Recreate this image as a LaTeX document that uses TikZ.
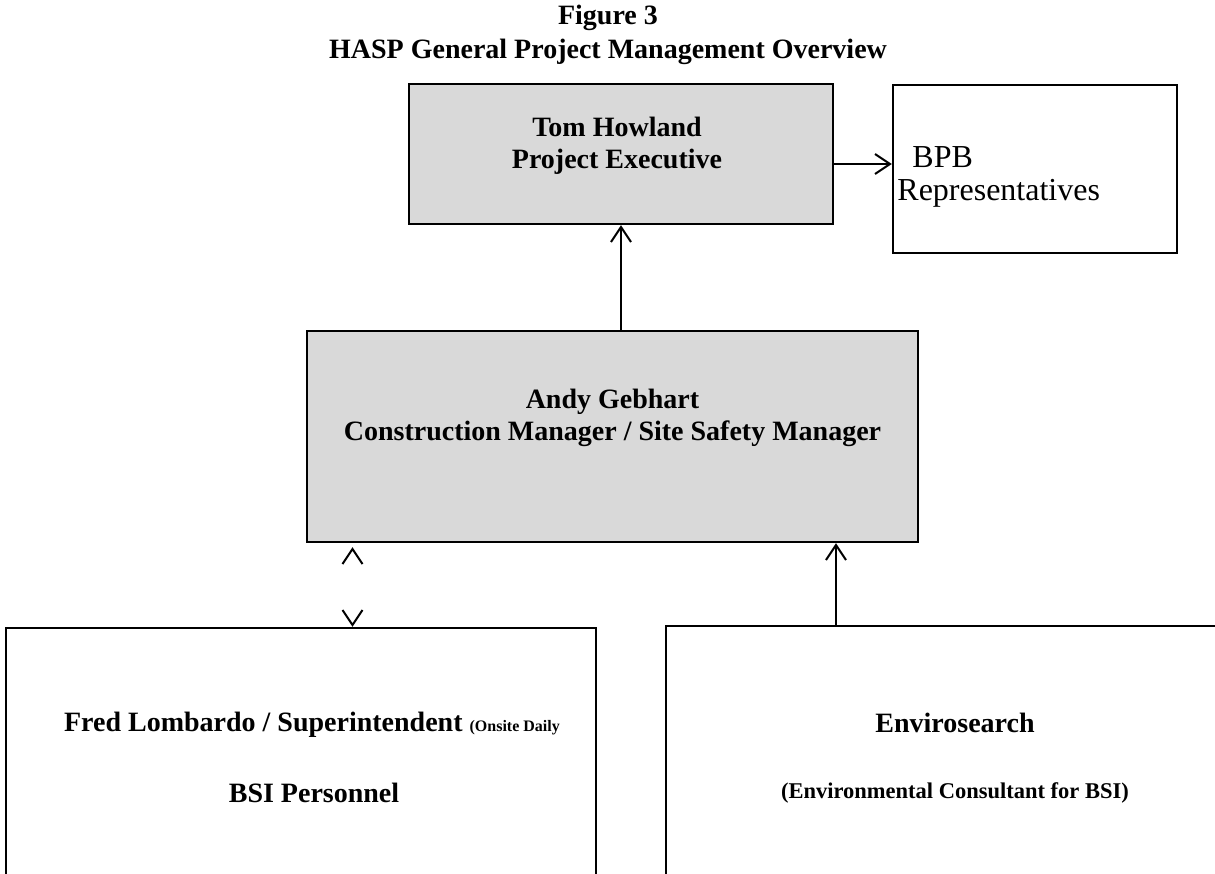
\documentclass[tikz,border=0pt]{standalone}
\usepackage{fontspec}
\setmainfont{Liberation Serif}
\usetikzlibrary{arrows.meta}
\definecolor{boxgrey}{HTML}{D9D9D9}
\newcommand{\bodysize}{\fontsize{14}{16}\selectfont}
\tikzset{
	box/.style={draw, line width=1.2pt, inner sep=0pt},
	greybox/.style={box, fill=boxgrey},
	lbl/.style={font=\bodysize\bfseries, align=center, inner sep=0pt},
	barb/.tip={Straight Barb[length=7.5pt,width=10pt,line width=1pt]},
	arr/.style={line width=1pt, -barb},
}

\begin{document}
\begin{tikzpicture}[x=0.5pt, y=-0.5pt]
				\useasboundingbox (0,0) rectangle (1215,873);
				
				\node[lbl] (fig) at (608,18) {Figure 3};
				\node[lbl] (title) at (608,52) {HASP General Project Management Overview};
				
				\node[greybox, minimum width=212pt, minimum height=70pt] (tom) at (621,154) {};
				\node[lbl] (tomtxt) at (617,146) {Tom Howland\\Project Executive};
				
				\node[box, minimum width=142pt, minimum height=84pt] (bpb) at (1035,169) {};
				\node[lbl, font=\fontsize{16}{16.5}\selectfont, align=left, anchor=west] (bpbtxt) at (897,176.5) {\hspace*{7.5pt}BPB\\Representatives};
				
				\node[greybox, minimum width=305.5pt, minimum height=105.5pt] (andy) at (612.5,436.5) {};
				\node[lbl] (andytxt) at (612.5,418) {Andy Gebhart\\Construction Manager / Site Safety Manager};
				
				\node[box, minimum width=295pt, minimum height=136pt] (fred) at (301,764) {};
				\node[lbl] (fredtxt) at (312,725) {Fred Lombardo / Superintendent {\fontsize{8}{10}\selectfont(Onsite Daily}};
				\node[lbl] (bsitxt) at (314,793) {BSI Personnel};
				
				\node[box, minimum width=289.5pt, minimum height=137pt] (env) at (955.5,763) {};
				\node[lbl] (envtxt) at (955,723) {Envirosearch};
				\node[lbl, font=\fontsize{11.25}{13}\selectfont\bfseries] (constxt) at (955,793) {(Environmental Consultant for BSI)};
				
				\coordinate (tomout) at ([yshift=-5pt]tom.east);
				\draw[arr] (tomout) -- (tomout -| bpb.west);
				\draw[arr] (tom.south |- andy.north) -- (tom.south);
				
				\coordinate (envup) at (836,0);
				\draw[arr] (envup |- env.north) -- (envup |- andy.south);
				
				\coordinate (fredup) at (352.5,0);
				\draw[line width=1pt, dash pattern=on 0pt off 500pt, barb-barb, shorten <=2pt] (fredup |- andy.south) -- (fredup |- fred.north);
			\end{tikzpicture}
\end{document}
